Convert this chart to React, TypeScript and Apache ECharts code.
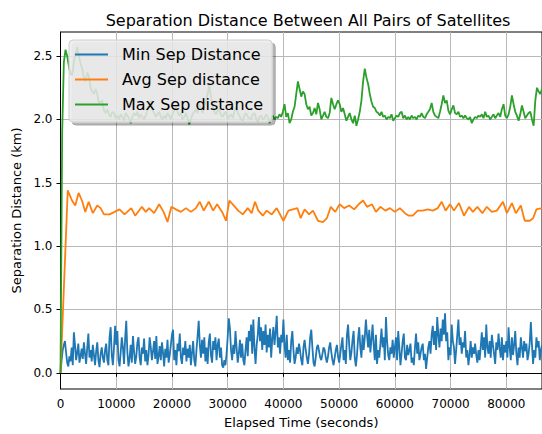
import React, { useEffect, useRef } from "react";
import * as echarts from "echarts";

// Minimum separation, sampled every MIN_STEP seconds (km)
const MIN_STEP = 200;
const minDist = [
  // 0 – 9800 s
  0.0, 0.1, 0.18, 0.22, 0.25, 0.16, 0.08, 0.05, 0.13, 0.09,
  0.2, 0.06, 0.32, 0.22, 0.1, 0.16, 0.23, 0.08, 0.13, 0.19,
  0.11, 0.24, 0.15, 0.07, 0.2, 0.31, 0.12, 0.18, 0.09, 0.22,
  0.14, 0.06, 0.17, 0.24, 0.1, 0.045, 0.15, 0.2, 0.12, 0.08,
  0.18, 0.23, 0.1, 0.06, 0.28, 0.36, 0.14, 0.06, 0.2, 0.37,
  // 10000 – 19800 s
  0.22, 0.33, 0.1, 0.05, 0.16, 0.28, 0.2, 0.07, 0.27, 0.41,
  0.16, 0.05, 0.12, 0.22, 0.08, 0.29, 0.17, 0.07, 0.13, 0.24,
  0.28, 0.12, 0.06, 0.2, 0.15, 0.27, 0.09, 0.18, 0.06, 0.14,
  0.28, 0.2, 0.1, 0.17, 0.25, 0.11, 0.29, 0.07, 0.13, 0.21,
  0.1, 0.24, 0.16, 0.05, 0.19, 0.12, 0.26, 0.08, 0.14, 0.22,
  // 20000 – 29800 s
  0.3, 0.34, 0.1, 0.18, 0.06, 0.23, 0.17, 0.31, 0.12, 0.07,
  0.2, 0.14, 0.25, 0.09, 0.19, 0.12, 0.22, 0.06, 0.16, 0.25,
  0.1, 0.05, 0.18, 0.29, 0.41, 0.22, 0.12, 0.26, 0.15, 0.28,
  0.09, 0.2, 0.07, 0.24, 0.31, 0.14, 0.08, 0.25, 0.18, 0.28,
  0.1, 0.22, 0.27, 0.12, 0.2, 0.06, 0.04, 0.1, 0.06, 0.15,
  // 30000 – 39800 s
  0.28, 0.43, 0.35, 0.18, 0.1, 0.22, 0.15, 0.33, 0.2, 0.08,
  0.15, 0.26, 0.12, 0.23, 0.1, 0.06, 0.18, 0.28, 0.13, 0.33,
  0.25, 0.38, 0.15, 0.42, 0.2, 0.07, 0.22, 0.3, 0.44, 0.25,
  0.36, 0.18, 0.33, 0.22, 0.38, 0.16, 0.3, 0.2, 0.35, 0.12,
  0.27, 0.36, 0.22, 0.32, 0.45, 0.2, 0.28, 0.15, 0.3, 0.24,
  // 40000 – 49800 s
  0.42, 0.22, 0.12, 0.3, 0.1, 0.18, 0.08, 0.25, 0.33, 0.18,
  0.07, 0.12, 0.2, 0.15, 0.23, 0.17, 0.1, 0.06, 0.2, 0.26,
  0.18, 0.12, 0.07, 0.15, 0.28, 0.34, 0.2, 0.08, 0.05, 0.12,
  0.2, 0.22, 0.17, 0.12, 0.1, 0.15, 0.2, 0.18, 0.12, 0.08,
  0.13, 0.2, 0.24, 0.16, 0.1, 0.06, 0.12, 0.18, 0.22, 0.13,
  // 50000 – 59800 s
  0.08, 0.15, 0.22, 0.28, 0.1, 0.18, 0.07, 0.3, 0.38, 0.22,
  0.1, 0.16, 0.26, 0.33, 0.12, 0.05, 0.14, 0.27, 0.36, 0.2,
  0.12, 0.3, 0.18, 0.28, 0.42, 0.3, 0.2, 0.34, 0.16, 0.26,
  0.38, 0.22, 0.1, 0.3, 0.07, 0.18, 0.12, 0.23, 0.35, 0.2,
  0.28, 0.1, 0.44, 0.25, 0.14, 0.1, 0.2, 0.15, 0.26, 0.12,
  // 60000 – 69800 s
  0.2, 0.28, 0.1, 0.33, 0.2, 0.06, 0.15, 0.25, 0.31, 0.12,
  0.1, 0.22, 0.14, 0.18, 0.23, 0.08, 0.12, 0.06, 0.2, 0.31,
  0.15, 0.24, 0.1, 0.15, 0.2, 0.23, 0.1, 0.15, 0.03, 0.12,
  0.2, 0.25, 0.15, 0.3, 0.37, 0.22, 0.33, 0.18, 0.44, 0.3,
  0.2, 0.35, 0.25, 0.42, 0.3, 0.47, 0.25, 0.32, 0.1, 0.2,
  // 70000 – 79800 s
  0.14, 0.38, 0.25, 0.2, 0.07, 0.18, 0.3, 0.42, 0.22, 0.28,
  0.15, 0.24, 0.2, 0.33, 0.12, 0.18, 0.06, 0.14, 0.25, 0.12,
  0.2, 0.15, 0.23, 0.14, 0.08, 0.18, 0.1, 0.2, 0.32, 0.18,
  0.28, 0.12, 0.38, 0.2, 0.15, 0.25, 0.12, 0.3, 0.22, 0.15,
  0.07, 0.24, 0.18, 0.31, 0.2, 0.12, 0.28, 0.1, 0.22, 0.16,
  // 80000 – 86400 s
  0.25, 0.12, 0.36, 0.2, 0.1, 0.28, 0.14, 0.22, 0.33, 0.15,
  0.06, 0.2, 0.12, 0.28, 0.2, 0.12, 0.25, 0.17, 0.23, 0.1,
  0.15, 0.24, 0.4, 0.22, 0.07, 0.18, 0.12, 0.28, 0.2, 0.25,
  0.1, 0.18, 0.22,
];

// Average separation (time in seconds, distance in km)
const avgTime = [
  0, 1300, 2060, 2650, 3250, 3850, 4450, 5050, 5800, 6600, 7200, 7800, 8800, 9700, 10600, 11500, 12700, 13400, 14600,
  15300, 15900, 16800, 17700, 18500, 19200, 19900, 20700, 21600, 22500, 23400, 24300, 25000, 25700, 26600, 27400,
  28100, 29000, 29700, 30300, 31100, 31900, 32700, 33600, 34300, 34900, 35500, 36300, 37000, 37900, 38800, 40000,
  40900, 41700, 42500, 43100, 43800, 44600, 45300, 46200, 47100, 47800, 48500, 49300, 50100, 50900, 51800, 52700,
  53500, 54300, 55000, 55900, 56600, 57400, 58300, 59100, 60000, 60900, 61800, 62500, 63200, 64100, 65000, 65900,
  66800, 67700, 68400, 69100, 69900, 70600, 71500, 72400, 73300, 74000, 74800, 75700, 76500, 77400, 78300, 79400,
  80100, 81000, 81700, 82600, 83300, 84200, 84800, 85400, 86400,
];
const avgDist = [
  0, 1.44, 1.36, 1.32, 1.42, 1.36, 1.27, 1.35, 1.26, 1.32, 1.3, 1.25, 1.25, 1.27, 1.29, 1.25, 1.3, 1.24, 1.31,
  1.27, 1.3, 1.26, 1.33, 1.27, 1.19, 1.31, 1.29, 1.27, 1.3, 1.27, 1.3, 1.35, 1.28, 1.35, 1.28,
  1.33, 1.27, 1.2, 1.36, 1.32, 1.28, 1.25, 1.3, 1.26, 1.35, 1.28, 1.24, 1.28, 1.25, 1.3, 1.2,
  1.28, 1.29, 1.3, 1.22, 1.29, 1.25, 1.28, 1.2, 1.19, 1.22, 1.31, 1.27, 1.33, 1.3, 1.32, 1.29,
  1.33, 1.36, 1.31, 1.33, 1.27, 1.31, 1.28, 1.3, 1.27, 1.3, 1.26, 1.24, 1.24, 1.28, 1.28, 1.29,
  1.28, 1.3, 1.35, 1.28, 1.33, 1.28, 1.34, 1.24, 1.31, 1.27, 1.31, 1.26, 1.31, 1.27, 1.28, 1.35,
  1.26, 1.34, 1.26, 1.32, 1.2, 1.2, 1.22, 1.29, 1.3,
];

// Maximum separation, sampled every MAX_STEP seconds (km)
const MAX_STEP = 300;
const maxDist = [
  // 0 – 9900 s
  0, 1.9, 2.45, 2.55, 2.5, 2.42, 2.36, 2.35, 2.45, 2.52,
  2.57, 2.5, 2.44, 2.4, 2.33, 2.3, 2.37, 2.34, 2.25, 2.22,
  2.2, 2.24, 2.2, 2.12, 2.14, 2.15, 2.07, 2.05, 2.08, 2.04,
  2.02, 2.06, 2.05, 2.01,
  // 10200 – 19800 s
  2.03, 2.0, 2.04, 2.02, 1.99, 2.05, 2.03, 2.01, 1.97, 2.02,
  2.05, 2.03, 2.06, 2.01, 2.04, 2.02, 2.0, 2.03, 2.08, 2.12,
  2.15, 2.08, 2.05, 2.02, 2.04, 2.06, 2.02, 2.0, 2.03, 2.01,
  2.05, 2.03, 2.0,
  // 20100 – 29700 s
  2.04, 2.07, 2.1, 2.06, 2.03, 2.05, 2.0, 2.02, 2.05, 2.01,
  1.96, 2.0, 2.04, 2.06, 2.08, 2.05, 2.12, 2.09, 2.05, 2.1,
  2.15, 2.2, 2.27, 2.18, 2.1, 2.06, 2.04, 2.07, 2.08, 2.03,
  2.02, 2.05, 2.06,
  // 30000 – 39900 s
  2.0, 2.03, 2.04, 2.01, 2.06, 2.1, 2.05, 2.03, 2.0, 1.99,
  2.03, 2.05, 2.02, 2.01, 2.0, 2.04, 2.05, 2.01, 1.98, 2.02,
  2.03, 2.0, 2.01, 2.04, 2.02, 1.97, 2.01, 2.03, 2.0, 2.02,
  2.01, 2.04, 2.02, 2.06,
  // 40200 – 49800 s
  2.12, 2.02, 2.05, 1.97, 2.0, 2.06, 2.1, 2.2, 2.3, 2.24,
  2.18, 2.22, 2.2, 2.12, 2.08, 2.1, 2.03, 2.05, 2.09, 2.04,
  2.13, 2.08, 2.0, 2.03, 2.06, 2.02, 2.01, 2.05, 2.17, 2.12,
  2.08, 2.12, 2.15,
  // 50100 – 59700 s
  2.12, 2.06, 2.09, 2.04, 1.99, 2.02, 2.05, 2.0, 1.97, 2.03,
  1.95, 2.0, 2.06, 2.15, 2.3, 2.4, 2.33, 2.28, 2.2, 2.14,
  2.1, 2.09, 2.06, 2.05, 2.03, 2.06, 2.02, 2.03, 2.0, 2.02,
  2.01, 2.04, 1.99,
  // 60000 – 69900 s
  2.01, 2.03, 2.02, 2.05, 2.06, 2.01, 2.03, 2.0, 2.02, 2.0,
  2.03, 2.01, 2.02, 2.0, 2.03, 2.02, 2.05, 2.02, 2.01, 2.04,
  2.06, 2.08, 2.13, 2.06, 2.03, 2.02, 2.01, 2.06, 2.12, 2.19,
  2.13, 2.15, 2.07, 2.04,
  // 70200 – 79800 s
  2.08, 2.11, 2.05, 2.04, 2.06, 2.02, 2.03, 2.01, 2.03, 2.01,
  2.0, 2.02, 1.97, 2.0, 2.02, 2.01, 2.03, 2.02, 2.04, 2.01,
  2.06, 2.02, 2.03, 2.0, 2.02, 2.04, 2.01, 2.03, 2.05, 2.02,
  2.08, 2.12, 2.03,
  // 80100 – 86400 s
  2.01, 2.04, 2.1, 2.19, 2.12, 2.06, 2.03, 1.99, 2.04, 2.11,
  2.06, 2.01, 2.03, 2.05, 2.06, 2.0, 1.95, 2.15, 2.25, 2.22,
  2.2, 2.24,
];

const yTicks = [0, 0.5, 1.0, 1.5, 2.0, 2.5];

const FONT = "DejaVu Sans";

export default function App() {
  const ref = useRef<HTMLDivElement>(null);

  useEffect(() => {
    if (!ref.current) return;
    const chart = echarts.init(ref.current, null, { renderer: "svg" });

    const minData = minDist.map((v, i) => [i * MIN_STEP, v]);
    const avgData = avgTime.map((t, i) => [t, avgDist[i]]);
    const maxData = maxDist.map((v, i) => [i * MAX_STEP, v]);

    chart.setOption({
      animation: false,
      backgroundColor: "#ffffff",
      title: {
        text: "Separation Distance Between All Pairs of Satellites",
        left: 303,
        textAlign: "center",
        top: 7,
        textStyle: { fontFamily: FONT, fontSize: 16, fontWeight: "normal", color: "#000" },
      },
      grid: {
        left: 60.5,
        right: -3,
        top: 32,
        bottom: 41,
        show: true,
        borderColor: "#000",
        borderWidth: 1,
        backgroundColor: "transparent",
      },
      legend: {
        orient: "vertical",
        left: 69,
        top: 40,
        icon: "rect",
        itemWidth: 33,
        itemHeight: 2,
        itemGap: 6,
        padding: [5, 9, 8, 6],
        backgroundColor: "rgba(236,236,236,0.82)",
        borderColor: "#cfcfcf",
        borderWidth: 1,
        borderRadius: 4,
        shadowColor: "rgba(0,0,0,0.35)",
        shadowOffsetX: 3,
        shadowOffsetY: 3,
        shadowBlur: 0,
        textStyle: {
          fontFamily: FONT,
          fontSize: 16,
          lineHeight: 19,
          color: "#000",
          padding: [0, 0, 0, 9],
        },
        data: ["Min Sep Distance", "Avg Sep distance", "Max Sep distance"],
      },
      xAxis: {
        type: "value",
        min: 0,
        max: 86400,
        interval: 10000,
        name: "Elapsed Time (seconds)",
        nameLocation: "middle",
        nameGap: 27,
        nameTextStyle: { fontFamily: FONT, fontSize: 13, color: "#000" },
        axisLine: { show: true, lineStyle: { color: "#000", width: 1 } },
        axisTick: { show: true, inside: false, length: 4, lineStyle: { color: "#000" } },
        axisLabel: {
          fontFamily: FONT,
          fontSize: 12,
          color: "#000",
          margin: 9,
          showMaxLabel: false,
          formatter: (v: number) => String(v),
        },
        splitLine: { show: true, lineStyle: { color: "#b8b8b8", width: 1 } },
      },
      yAxis: {
        type: "value",
        min: -0.128,
        max: 2.69,
        name: "Separation Distance (km)",
        nameLocation: "middle",
        nameGap: 38,
        nameTextStyle: { fontFamily: FONT, fontSize: 13, color: "#000" },
        axisLine: { show: true, lineStyle: { color: "#000", width: 1 } },
        axisTick: { show: true, length: 4, lineStyle: { color: "#000" }, customValues: yTicks },
        axisLabel: {
          fontFamily: FONT,
          fontSize: 12,
          color: "#000",
          margin: 8,
          customValues: yTicks,
          formatter: (v: number) => v.toFixed(1),
        },
        splitLine: { show: true, lineStyle: { color: "#b8b8b8", width: 1 } },
      },
      series: [
        {
          name: "Min Sep Distance",
          type: "line",
          data: minData,
          symbol: "none",
          lineStyle: { color: "#1f77b4", width: 1.8 },
          itemStyle: { color: "#1f77b4" },
        },
        {
          name: "Avg Sep distance",
          type: "line",
          data: avgData,
          symbol: "none",
          lineStyle: { color: "#ff7f0e", width: 1.8 },
          itemStyle: { color: "#ff7f0e" },
        },
        {
          name: "Max Sep distance",
          type: "line",
          data: maxData,
          symbol: "none",
          lineStyle: { color: "#2ca02c", width: 1.8 },
          itemStyle: { color: "#2ca02c" },
        },
      ],
    });

    return () => chart.dispose();
  }, []);

  return (
    <div
      ref={ref}
      style={{ position: "fixed", left: 0, top: 0, width: 542, height: 434 }}
    />
  );
}
